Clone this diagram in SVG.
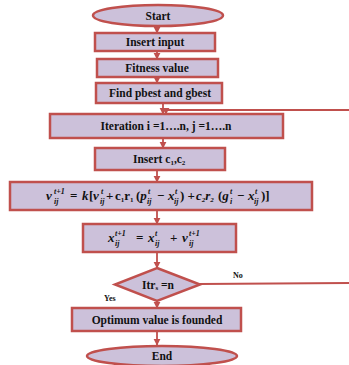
<svg xmlns="http://www.w3.org/2000/svg" width="349" height="365" viewBox="0 0 349 365">
<defs>
<marker id="ah" viewBox="0 0 10 10" refX="9" refY="5" markerWidth="4" markerHeight="4" orient="auto" markerUnits="strokeWidth">
<path d="M0,0 L10,5 L0,10 z" fill="#c0504d"/>
</marker>
<style>
.shape{fill:#ccc1da;stroke:#c0504d;stroke-width:2.5}
.lbl{font-family:"Liberation Serif",serif;font-weight:bold;font-size:11.5px;fill:#111;text-anchor:middle}
.sm{font-family:"Liberation Serif",serif;font-weight:bold;font-size:8px;fill:#111}
.eq{font-family:"Liberation Serif",serif;font-weight:bold;font-style:italic;font-size:13px;fill:#111}
.up{font-style:normal}
.eqs{font-family:"Liberation Serif",serif;font-weight:bold;font-style:italic;font-size:8px;fill:#111}
.con{fill:none;stroke:#c0504d;stroke-width:1.8}
</style>
</defs>
<rect width="349" height="365" fill="#ffffff"/>
<g id="connectors">
<line class="con" x1="157" y1="26" x2="157" y2="33" marker-end="url(#ah)"/>
<line class="con" x1="157" y1="51" x2="157" y2="59" marker-end="url(#ah)"/>
<line class="con" x1="157" y1="77" x2="157" y2="83" marker-end="url(#ah)"/>
<line class="con" x1="163" y1="103" x2="163" y2="114" marker-end="url(#ah)"/>
<polyline class="con" points="349,110 166,110 166,114" marker-end="url(#ah)"/>
<line class="con" x1="163" y1="138" x2="163" y2="148" marker-end="url(#ah)"/>
<line class="con" x1="157" y1="170" x2="157" y2="182" marker-end="url(#ah)"/>
<line class="con" x1="157" y1="210" x2="157" y2="224" marker-end="url(#ah)"/>
<line class="con" x1="157" y1="252" x2="157" y2="268" marker-end="url(#ah)"/>
<line class="con" x1="200" y1="284" x2="349" y2="283"/>
<line class="con" x1="157" y1="301" x2="157" y2="308" marker-end="url(#ah)"/>
<line class="con" x1="157" y1="331" x2="157" y2="345" marker-end="url(#ah)"/>
<text class="sm" x="233" y="278">No</text>
<text class="sm" x="104" y="301">Yes</text>
</g>
<g id="start">
<ellipse class="shape" cx="158" cy="15.5" rx="65" ry="10.5"/>
<text class="lbl" x="158" y="19.5">Start</text>
</g>
<g id="insert-input">
<rect class="shape" x="95" y="33" width="120" height="18"/>
<text class="lbl" x="155" y="46">Insert input</text>
</g>
<g id="fitness">
<rect class="shape" x="97" y="59" width="121" height="18"/>
<text class="lbl" x="157" y="72">Fitness value</text>
</g>
<g id="find-best">
<rect class="shape" x="96" y="83" width="126" height="20"/>
<text class="lbl" x="160" y="97">Find pbest and gbest</text>
</g>
<g id="iteration">
<rect class="shape" x="50" y="114" width="233" height="24"/>
<text class="lbl" x="166" y="130">Iteration i =1….n, j =1….n</text>
</g>
<g id="insert-c">
<rect class="shape" x="95" y="148" width="130" height="22"/>
<text class="lbl" x="133" y="163" style="text-anchor:start">Insert c<tspan font-size="7" dy="2">1</tspan><tspan dy="-2">,c</tspan><tspan font-size="7" dy="2">2</tspan></text>
</g>
<g id="velocity">
<rect class="shape" x="10" y="182" width="302" height="28"/>
<text class="eq" x="46" y="200">v</text>
<text class="eqs" x="54" y="193.5">t+1</text>
<text class="eqs" x="54" y="204">ij</text>
<text class="eq up" x="70" y="200">=</text>
<text class="eq" x="82" y="200">k</text>
<text class="eq up" x="89" y="200">[</text>
<text class="eq" x="93" y="200">v</text>
<text class="eqs" x="101" y="193.5">t</text>
<text class="eqs" x="100" y="204">ij</text>
<text class="eq up" x="106" y="200">+</text>
<text class="eq up" x="115" y="200">c<tspan font-size="7" dy="2">1</tspan><tspan dy="-2">r</tspan><tspan font-size="7" dy="2">1</tspan></text>
<text class="eq up" x="136" y="200">(<tspan font-style="italic">p</tspan></text>
<text class="eqs" x="148" y="193.5">t</text>
<text class="eqs" x="147" y="204">ij</text>
<text class="eq up" x="157" y="200">−</text>
<text class="eq" x="168" y="200">x</text>
<text class="eqs" x="175" y="193.5">t</text>
<text class="eqs" x="174" y="204">ij</text>
<text class="eq up" x="180" y="200">) +</text>
<text class="eq" x="196" y="200">c<tspan font-size="7" dy="2">2</tspan><tspan dy="-2">r</tspan><tspan font-size="7" dy="2">2</tspan></text>
<text class="eq up" x="218" y="200">(<tspan font-style="italic">g</tspan></text>
<text class="eqs" x="230" y="193.5">t</text>
<text class="eqs" x="230" y="204">i</text>
<text class="eq up" x="237" y="200">−</text>
<text class="eq" x="248" y="200">x</text>
<text class="eqs" x="255" y="193.5">t</text>
<text class="eqs" x="254" y="204">ij</text>
<text class="eq up" x="261" y="200">)]</text>
</g>
<g id="position">
<rect class="shape" x="83" y="224" width="153" height="28"/>
<text class="eq" x="108" y="242">x</text>
<text class="eqs" x="115" y="235.5">t+1</text>
<text class="eqs" x="115" y="246">ij</text>
<text class="eq up" x="136" y="242">=</text>
<text class="eq" x="148" y="242">x</text>
<text class="eqs" x="155" y="235.5">t</text>
<text class="eqs" x="155" y="246">ij</text>
<text class="eq up" x="170" y="242">+</text>
<text class="eq" x="182" y="242">v</text>
<text class="eqs" x="189" y="235.5">t+1</text>
<text class="eqs" x="189" y="246">ij</text>
</g>
<g id="decision">
<polygon class="shape" points="157,268 200,284.5 157,301 115,284.5"/>
<text class="lbl" x="158" y="289">Itr<tspan font-size="7" dy="1">s</tspan><tspan dy="-1"> =n</tspan></text>
</g>
<g id="optimum">
<rect class="shape" x="72" y="308" width="169" height="23"/>
<text class="lbl" x="157" y="323.5">Optimum value is founded</text>
</g>
<g id="end">
<ellipse class="shape" cx="162" cy="356" rx="75" ry="10"/>
<text class="lbl" x="162" y="360">End</text>
</g>
</svg>
